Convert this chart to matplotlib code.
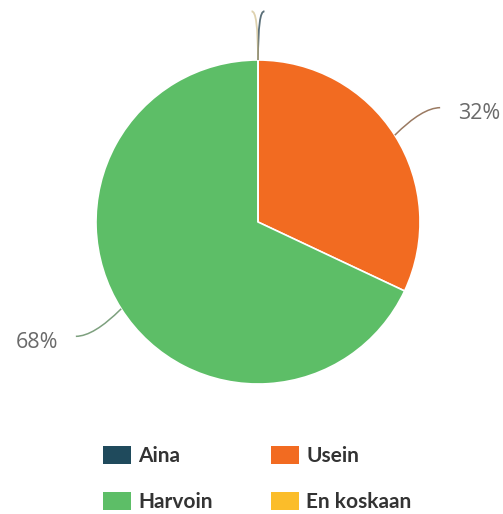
import matplotlib
matplotlib.use("Agg")
import matplotlib.pyplot as plt
import numpy as np
from matplotlib.patches import Patch, PathPatch
from matplotlib.path import Path

categories = ["Aina", "Usein", "Harvoin", "En koskaan"]
values = [0, 32, 68, 0]
colors = ["#1f4a5c", "#f26b21", "#5dbe67", "#fbbd2a"]

W, H = 503, 514
fig = plt.figure(figsize=(W / 100, H / 100), dpi=100)

cx, cy, r = 258, 222, 162
ax = fig.add_axes([(cx - r) / W, (H - cy - r) / H, 2 * r / W, 2 * r / H])
wedges, _ = ax.pie(values, colors=colors, startangle=90, counterclock=False,
                   radius=1.0, wedgeprops=dict(edgecolor="white", linewidth=1.2))
ax.set_xlim(-1, 1)
ax.set_ylim(-1, 1)
ax.set_aspect("equal")
ax.axis("off")

total = sum(values)
leader_colors = ["#3d5560", "#9a7a62", "#7da07e", "#c9b47a"]


def leader(p0, p1, p2, color, lw=1.0, alpha=1.0):
    path = Path([p0, p1, p2], [Path.MOVETO, Path.CURVE3, Path.CURVE3])
    pp = PathPatch(path, fill=False, edgecolor=color, lw=lw, alpha=alpha,
                   clip_on=False)
    ax.add_patch(pp)


cum = 0
for i, (cat, v) in enumerate(zip(categories, values)):
    mid = cum + v / 2
    cum += v
    theta = np.deg2rad(90 - 360 * mid / total)
    sx, sy = np.cos(theta), np.sin(theta)
    side = 1 if sx > 1e-9 or (abs(sx) <= 1e-9 and i == 0) else -1
    if v == 0:
        # zero-valued slices still get a short leader rising from the rim
        leader((sx, sy), (sx, sy + 0.31), (sx + side * 0.04, sy + 0.30),
               leader_colors[i], lw=1.3, alpha=0.85 if i == 0 else 0.6)
        continue
    ey = sy + 0.17 * np.sign(sy)
    ex = sx + side * 0.28
    leader((sx, sy), (sx + side * 0.17, ey), (ex, ey), leader_colors[i], lw=1.1)
    pct = 100 * v / total
    ax.text(ex + side * 0.11, ey - 0.035, f"{pct:.0f}%", fontsize=15.5,
            family="Open Sans", color="#6a6a6a",
            ha="left" if side > 0 else "right", va="center")

handles = [Patch(facecolor=c, edgecolor="none") for c in colors]
order = [0, 2, 1, 3]
leg = fig.legend([handles[k] for k in order], [categories[k] for k in order],
                 ncol=2, loc="upper left", bbox_to_anchor=(84 / W, 1 - 427 / H),
                 frameon=False, handlelength=1.35, handleheight=0.95,
                 handletextpad=0.35, labelspacing=1.25, columnspacing=2.8,
                 prop=dict(family="Lato", weight="bold", size=15))
for t in leg.get_texts():
    t.set_color("#333333")

fig.savefig("out.png", dpi=100, facecolor="white")
